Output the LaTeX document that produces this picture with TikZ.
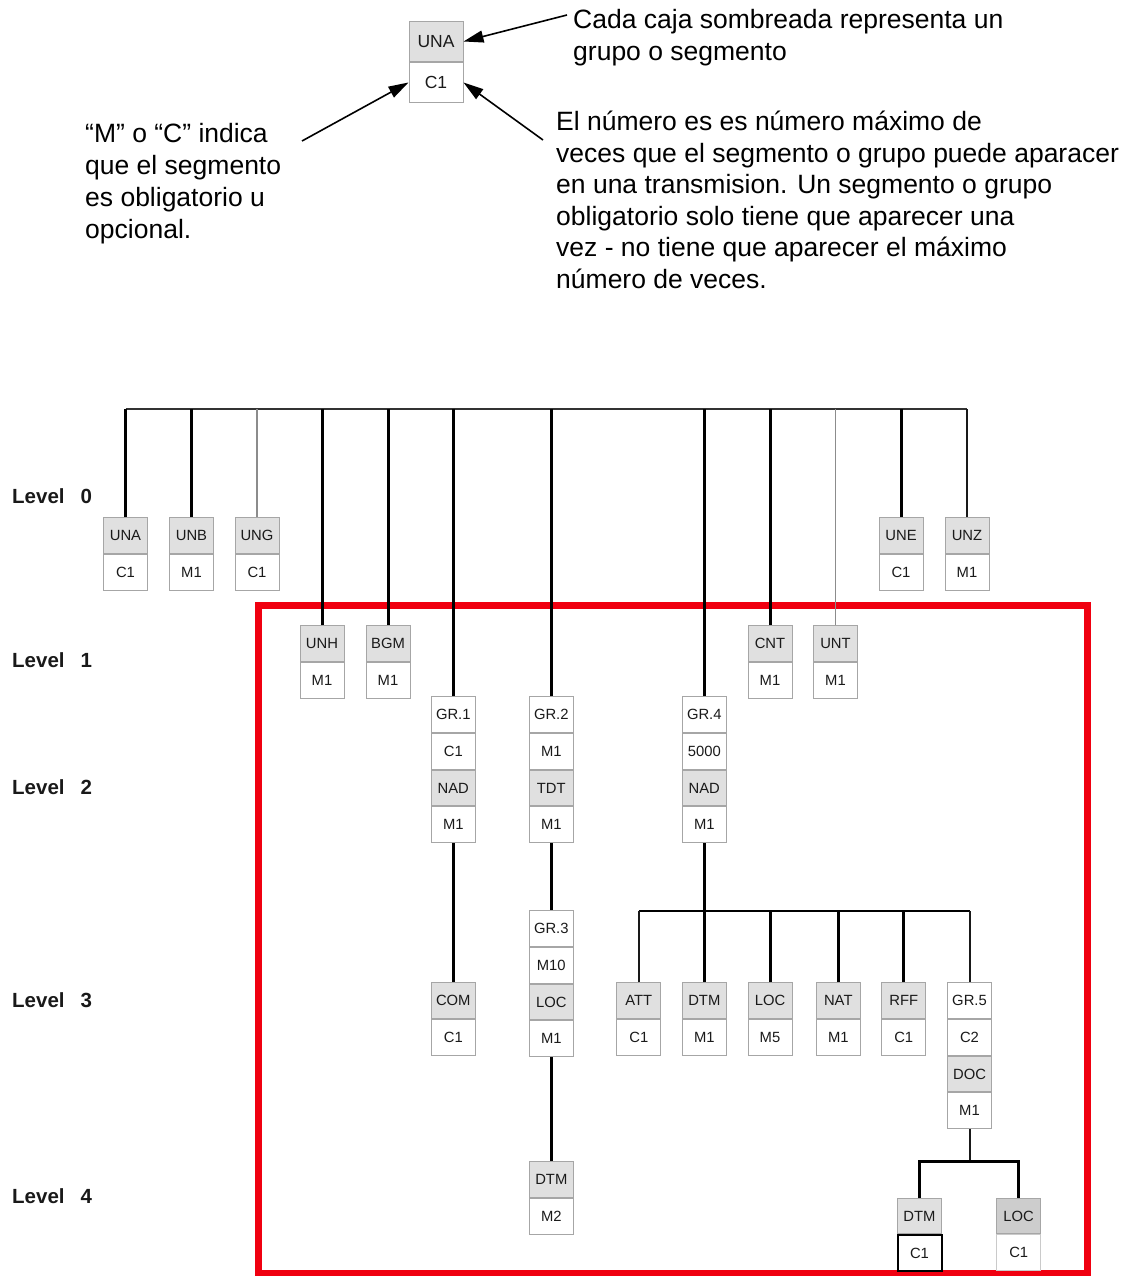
\documentclass[tikz,border=0pt]{standalone}
\usepackage{fontspec}
\setmainfont{Liberation Sans}
\usetikzlibrary{arrows.meta}
\definecolor{hdr}{HTML}{E0E0E0}
\definecolor{hdrdark}{HTML}{CDCDCD}
\definecolor{boxgray}{HTML}{A6A6A6}
\definecolor{txt}{HTML}{1A1A1A}
\definecolor{redframe}{HTML}{F00010}
\definecolor{thinline}{HTML}{8C8C8C}
\definecolor{barline}{HTML}{333333}
\newcommand\mysegbox[5]{%
  \node[shadedcell] (#1H) at (#2,#3) {#4};
  \node[plaincell] (#1C) at (#1H.south) {#5};}
\newcommand\mygrpbox[7]{%
  \node[plaincell] (#1g) at (#2,#3) {#4};
  \node[plaincell] (#1n) at (#1g.south) {#5};
  \node[shadedcell] (#1s) at (#1n.south) {#6};
  \node[plaincell] (#1m) at (#1s.south) {#7};}
\begin{document}
\begin{tikzpicture}[x=1pt,y=-1pt,
  cellbase/.style={draw=boxgray, line width=1pt, minimum width=44pt, minimum height=35.8pt,
    inner sep=0pt, anchor=north, text=txt, font=\fontsize{14.8}{16}\selectfont},
  shadedcell/.style={cellbase, fill=hdr},
  plaincell/.style={cellbase, fill=white},
  bigcell/.style={cellbase, minimum width=54pt, minimum height=40pt, font=\fontsize{17.5}{20}\selectfont},
  conA/.style={line width=3pt, black},
  conB/.style={line width=2pt, black!90},
  conC/.style={line width=1.4pt, thinline},
  conbar/.style={line width=2pt, barline},
  conbarB/.style={line width=2.4pt, black},
  arr/.style={line width=1.6pt, black, -{Triangle[length=20pt,width=12pt]}},
  note/.style={anchor=base west, inner sep=0pt, text=black},
  lvl/.style={anchor=base west, inner sep=0pt, text=black!90, font=\bfseries\fontsize{20.5}{24}\selectfont}]
\useasboundingbox (0,0) rectangle (1125,1276);

% ---------- legend ----------
\node[bigcell, fill=hdr] (legH) at (436,21) {UNA};
\node[bigcell, fill=white] (legC) at (legH.south) {C1};

\node[note] (noteA) at (573,29) {\fontsize{26.5}{31.5}\selectfont
  \begin{tabular}[t]{@{}l@{}}Cada caja sombreada representa un\\ grupo o segmento\end{tabular}};
\node[note] (noteB) at (85,143) {\fontsize{26.5}{32}\selectfont
  \begin{tabular}[t]{@{}l@{}}“M” o “C” indica\\ que el segmento\\ es obligatorio u\\ opcional.\end{tabular}};
\node[note] (noteC) at (556,131) {\fontsize{26.5}{31.5}\selectfont
  \begin{tabular}[t]{@{}l@{}}El número es es número máximo de\\ veces que el segmento o grupo puede aparacer\\ en una transmision. Un segmento o grupo\\ obligatorio solo tiene que aparecer una\\ vez - no tiene que aparecer el máximo\\ número de veces.\end{tabular}};

\coordinate (tailA) at (567,15);
\coordinate (tailB) at (302,141);
\coordinate (tailC) at (543,140);
\draw[arr] (tailA) -- (legH.east);
\draw[arr] (tailB) -- (legC.west);
\draw[arr] (tailC) -- (legC.east);

% ---------- level labels ----------
\node[lvl] (lv0) at (12,503.5) {Level\hspace{16pt}0};
\node[lvl] (lv1) at (12,667.5) {Level\hspace{16pt}1};
\node[lvl] (lv2) at (12,794.5) {Level\hspace{16pt}2};
\node[lvl] (lv3) at (12,1007.5) {Level\hspace{16pt}3};
\node[lvl] (lv4) at (12,1203.5) {Level\hspace{16pt}4};

% ---------- red frame ----------
\draw[redframe, line width=7pt] (258.5,605.5) rectangle (1087.5,1273.5);

% ---------- boxes ----------
% level 0
\mysegbox{una}{125.5}{517}{UNA}{C1}
\mysegbox{unb}{191.5}{517}{UNB}{M1}
\mysegbox{ung}{257}{517}{UNG}{C1}
\mysegbox{une}{901}{517}{UNE}{C1}
\mysegbox{unz}{967}{517}{UNZ}{M1}
% level 1
\mysegbox{unh}{322}{625}{UNH}{M1}
\mysegbox{bgm}{388}{625}{BGM}{M1}
\mysegbox{cnt}{770}{625}{CNT}{M1}
\mysegbox{unt}{835.5}{625}{UNT}{M1}
% level 2
\mygrpbox{grA}{453.3}{696}{GR.1}{C1}{NAD}{M1}
\mygrpbox{grB}{551.3}{696}{GR.2}{M1}{TDT}{M1}
\mygrpbox{grD}{704.3}{696}{GR.4}{5000}{NAD}{M1}
% level 3
\mysegbox{com}{453.3}{982}{COM}{C1}
\mygrpbox{grC}{551.3}{910}{GR.3}{M10}{LOC}{M1}
\mysegbox{att}{638.8}{982}{ATT}{C1}
\mysegbox{dtmA}{704.3}{982}{DTM}{M1}
\mysegbox{locA}{770}{982}{LOC}{M5}
\mysegbox{nat}{838.3}{982}{NAT}{M1}
\mysegbox{rff}{903.7}{982}{RFF}{C1}
\mygrpbox{grE}{969.5}{982}{GR.5}{C2}{DOC}{M1}
% level 4
\mysegbox{dtmB}{551.3}{1161}{DTM}{M2}
\node[shadedcell] (dtmCH) at (919.5,1197.5) {DTM};
\node[plaincell, draw=black, line width=2pt] (dtmCC) at (dtmCH.south) {C1};
\node[shadedcell, fill=hdrdark] (locBH) at (1018.7,1197.5) {LOC};
\node[plaincell, draw=boxgray!60] (locBC) at (locBH.south) {C1};

% ---------- connectors ----------
\coordinate (b0) at (0,409.3);
\coordinate (b3) at (0,911);
\coordinate (b4) at (0,1161.7);
\draw[conbar] (unaH.north |- b0) -- (unzH.north |- b0);
\foreach \n/\s in {unaH/conA, unbH/conA, ungH/conC, unhH/conA, bgmH/conA, grAg/conA,
  grBg/conA, grDg/conA, cntH/conA, untH/conC, uneH/conA, unzH/conB}
  \draw[\s] (\n.north) -- (\n.north |- b0);
\draw[conA] (grAm.south) -- (comH.north);
\draw[conA] (grBm.south) -- (grCg.north);
\draw[conA] (grCm.south) -- (dtmBH.north);
\draw[conA] (grDm.south) -- (dtmAH.north);
\draw[conbarB] (attH.north |- b3) -- (grEg.north |- b3);
\foreach \n/\s in {attH/conB, locAH/conA, natH/conA, rffH/conA, grEg/conB}
  \draw[\s] (\n.north) -- (\n.north |- b3);
\draw[conB] (grEm.south) -- (grEm.south |- b4);
\draw[conA, line join=miter] (dtmCH.north) -- (dtmCH.north |- b4) -- (locBH.north |- b4) -- (locBH.north);
\end{tikzpicture}
\end{document}
